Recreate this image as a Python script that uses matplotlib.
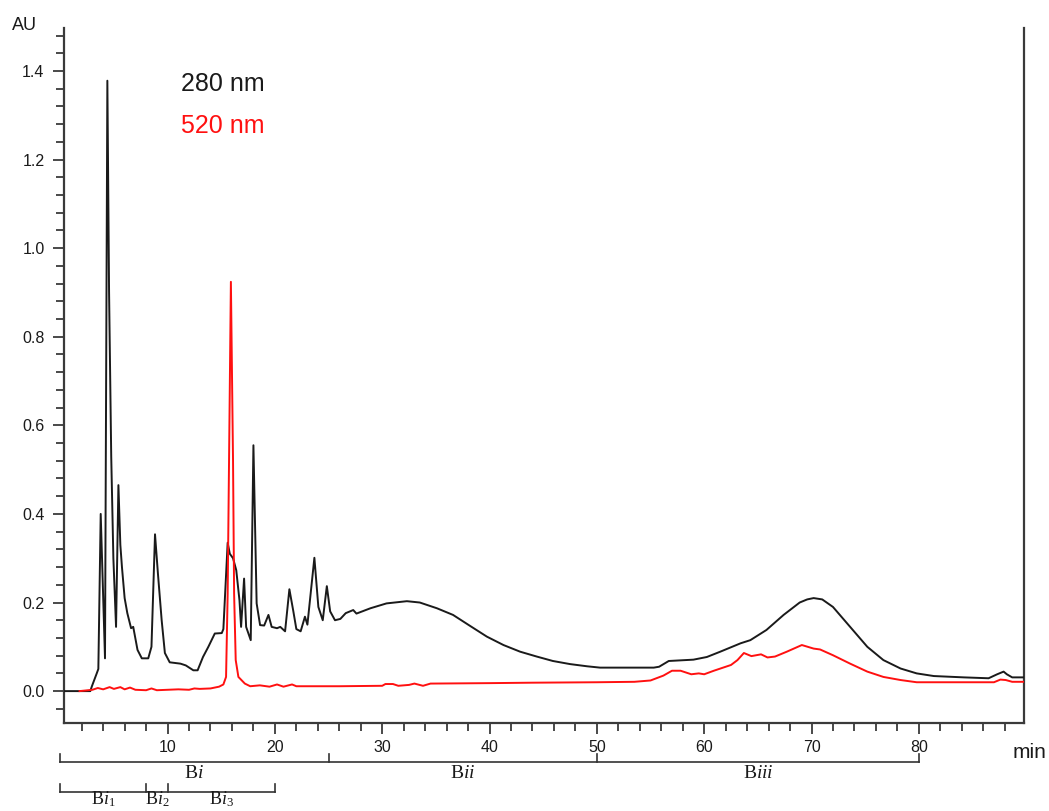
import matplotlib
matplotlib.use("Agg")
import matplotlib.pyplot as plt
from matplotlib.transforms import blended_transform_factory
from matplotlib.ticker import MultipleLocator

plt.rcParams['font.family'] = ['Liberation Sans', 'DejaVu Sans']
plt.rcParams['mathtext.fontset'] = 'custom'
plt.rcParams['mathtext.rm'] = 'Liberation Serif'
plt.rcParams['mathtext.it'] = 'Liberation Serif:italic'

# ---- data: 280 nm trace (time in min, absorbance AU) ----
t280 = [0.3, 2.8, 2.95, 3.4, 3.55, 3.77, 4.17, 4.39, 4.55, 4.75, 4.95, 5.2, 5.42,
        5.6, 5.75, 6.0, 6.25, 6.6, 6.8, 7.2, 7.6, 8.2, 8.5, 8.83, 9.1, 9.45, 9.75,
        10.2, 11.2, 11.7, 12.4, 12.8, 13.3, 13.8, 14.4, 15.05, 15.2, 15.6, 15.8,
        16.1, 16.4, 16.7, 16.85, 17.13, 17.32, 17.75, 18.0, 18.3, 18.62, 19.0,
        19.4, 19.7, 20.2, 20.5, 20.95, 21.35, 21.72, 22.0, 22.4, 22.8, 23.03,
        23.68, 24.05, 24.46, 24.84, 25.15, 25.6, 26.1, 26.6, 27.3, 27.6, 28.9,
        30.4, 32.3, 33.5, 35.1, 36.6, 38.2, 39.75, 41.3, 42.85, 44.4, 45.9, 47.5,
        49.1, 50.3, 55.3, 55.8, 56.7, 59.0, 60.25, 61.5, 63.4, 64.3, 65.8, 67.4,
        68.9, 69.6, 70.2, 71.0, 72.0, 73.6, 75.2, 76.7, 78.3, 79.8, 81.4, 84.2, 86.5,
        87.3, 87.9, 88.2, 88.7, 89.8]
a280 = [0.0, 0.0, 0.011, 0.04, 0.05, 0.40, 0.074, 1.378, 0.9, 0.53, 0.3, 0.145, 0.465,
        0.33, 0.28, 0.21, 0.176, 0.142, 0.145, 0.093, 0.074, 0.074, 0.1, 0.354, 0.266,
        0.16, 0.086, 0.065, 0.062, 0.058, 0.047, 0.047, 0.077, 0.1, 0.13, 0.131, 0.14,
        0.335, 0.31, 0.30, 0.273, 0.205, 0.145, 0.254, 0.145, 0.115, 0.555, 0.198,
        0.149, 0.148, 0.172, 0.145, 0.142, 0.145, 0.135, 0.23, 0.18, 0.14, 0.135,
        0.168, 0.15, 0.301, 0.19, 0.16, 0.237, 0.18, 0.16, 0.163, 0.176, 0.183,
        0.175, 0.187, 0.198, 0.203, 0.2, 0.187, 0.172, 0.147, 0.123, 0.104, 0.089,
        0.078, 0.068, 0.061, 0.056, 0.053, 0.053, 0.055, 0.068, 0.071, 0.077, 0.089,
        0.108, 0.115, 0.138, 0.172, 0.2, 0.207, 0.21, 0.207, 0.19, 0.145, 0.1, 0.07, 0.051,
        0.04, 0.034, 0.031, 0.029, 0.038, 0.044, 0.038, 0.031, 0.031]

# ---- data: 520 nm trace ----
t520 = [1.8, 3.0, 3.5, 4.0, 4.6, 5.0, 5.6, 6.0, 6.5, 7.0, 8.0, 8.5, 9.0, 10.0, 11.0,
        12.0, 12.5, 13.0, 14.0, 14.8, 15.2, 15.45, 15.6, 15.9, 16.1, 16.2, 16.35,
        16.6, 17.2, 17.7, 18.6, 19.5, 20.2, 20.8, 21.6, 22.0, 26.0, 30.0, 30.3,
        31.0, 31.5, 32.5, 33.0, 33.8, 34.5, 40.0, 44.0, 50.0, 53.5, 55.0, 56.2,
        57.0, 57.8, 58.8, 59.5, 60.0, 60.9, 62.5, 63.1, 63.7, 64.4, 65.3, 65.9,
        66.6, 67.7, 69.1, 70.2, 70.8, 72.0, 73.6, 75.2, 76.7, 78.3, 79.8, 83.0,
        87.0, 87.6, 88.1, 88.7, 89.8]
a520 = [0.0, 0.003, 0.007, 0.004, 0.009, 0.005, 0.009, 0.004, 0.008, 0.003, 0.002,
        0.006, 0.002, 0.003, 0.004, 0.003, 0.006, 0.005, 0.006, 0.01, 0.015, 0.032,
        0.22, 0.924, 0.52, 0.22, 0.07, 0.032, 0.017, 0.011, 0.013, 0.01, 0.015, 0.01,
        0.015, 0.011, 0.011, 0.012, 0.016, 0.016, 0.012, 0.014, 0.017, 0.012, 0.017,
        0.018, 0.019, 0.02, 0.021, 0.024, 0.035, 0.046, 0.046, 0.038, 0.040, 0.038,
        0.046, 0.059, 0.07, 0.086, 0.079, 0.083, 0.076, 0.078, 0.089, 0.104, 0.096,
        0.094, 0.081, 0.062, 0.044, 0.032, 0.025, 0.02, 0.02, 0.02, 0.026, 0.025,
        0.021, 0.021]

legend_labels = ["280 nm", "520 nm"]
x_ticks_major = [10, 20, 30, 40, 50, 60, 70, 80]
y_ticks_major = [0.0, 0.2, 0.4, 0.6, 0.8, 1.0, 1.2, 1.4]

# fraction brackets (min)
frac_main_edges = [0, 25, 50, 80]
frac_main_labels = [r"B$\mathit{i}$", r"B$\mathit{ii}$", r"B$\mathit{iii}$"]
frac_sub_edges = [0, 8, 10, 20]
frac_sub_labels = [r"B$\mathit{i}_{\mathit{1}}$", r"B$\mathit{i}_{\mathit{2}}$", r"B$\mathit{i}_{\mathit{3}}$"]

W, H = 1049, 811
fig = plt.figure(figsize=(W / 100, H / 100), dpi=100)
ax = fig.add_axes([64 / W, 1 - 723 / H, (1024 - 64) / W, (723 - 28) / H])

ax.plot(t280, a280, color="#1a1a1a", lw=1.4, zorder=3)
ax.plot(t520, a520, color="#ff1010", lw=1.4, zorder=4)

ax.set_xlim(0.35, 89.8)
ax.set_ylim(-0.072, 1.497)

spine_c = "#3a3a3a"
ax.spines['top'].set_visible(False)
for s in ['left', 'right', 'bottom']:
    ax.spines[s].set_color(spine_c)
    ax.spines[s].set_linewidth(1.6)

ax.set_yticks(y_ticks_major)
ax.set_yticklabels([f"{v:.1f}" for v in y_ticks_major])
ax.yaxis.set_minor_locator(MultipleLocator(0.04))
ax.set_xticks(x_ticks_major)
ax.set_xticklabels([str(v) for v in x_ticks_major])
ax.xaxis.set_minor_locator(MultipleLocator(2))
ax.tick_params(axis='both', which='major', direction='out', length=8, width=1.3,
               color=spine_c, labelsize=11.5, labelcolor="#1a1a1a")
ax.tick_params(axis='y', which='major', pad=6)
ax.tick_params(axis='x', which='major', pad=4)
ax.tick_params(axis='both', which='minor', direction='out', length=5.5, width=1.3,
               color=spine_c)
ax.tick_params(right=False, top=False, which='both')

# legend-like labels
fig.text(181 / W, 1 - 84 / H, legend_labels[0], color="#1a1a1a", fontsize=18,
         ha='left', va='center')
fig.text(181 / W, 1 - 126 / H, legend_labels[1], color="#ff1010", fontsize=18,
         ha='left', va='center')

fig.text(24 / W, 1 - 25 / H, "AU", fontsize=13, ha='center', va='center', color="#1a1a1a")
fig.text(1030 / W, 1 - 752 / H, "min", fontsize=15, ha='center', va='center', color="#1a1a1a")

# fraction brackets below the axis
tr = blended_transform_factory(ax.transData, fig.transFigure)
br_c = "#333333"

def bracket(edges, labels, y_line, y_tick, y_lab, va, fs):
    ax.plot([edges[0], edges[-1]], [y_line, y_line], transform=tr, color=br_c,
            lw=1.2, clip_on=False)
    for e in edges:
        ax.plot([e, e], [y_line, y_tick], transform=tr, color=br_c, lw=1.2,
                clip_on=False)
    for i, lab in enumerate(labels):
        xc = (edges[i] + edges[i + 1]) / 2
        ax.text(xc, y_lab, lab, transform=tr, ha='center', va=va, fontsize=fs,
                family='Liberation Serif', color="#1a1a1a", clip_on=False)

bracket(frac_main_edges, frac_main_labels, 1 - 762 / H, 1 - 754 / H, 1 - 773 / H, 'center', 14)
bracket(frac_sub_edges, frac_sub_labels, 1 - 792 / H, 1 - 784 / H, 1 - 809 / H, 'bottom', 13)

fig.savefig("out.png", dpi=100)
